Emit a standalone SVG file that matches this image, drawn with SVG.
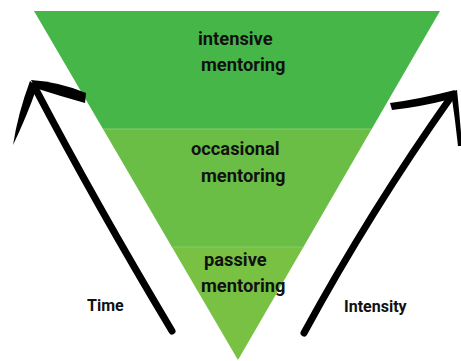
<svg xmlns="http://www.w3.org/2000/svg" width="461" height="361" viewBox="0 0 461 361">
<style>
.lbl{font-family:Roboto,"Open Sans","Liberation Sans",sans-serif;font-weight:700;fill:#111;}
.big{font-size:18.3px;}
.small{font-size:16px;}
.shaft{fill:none;stroke:#000;stroke-width:7;stroke-linecap:round;}
.ink{fill:#000;stroke:none;}
.sep{stroke:#86cc6a;stroke-width:1;}
</style>
<rect width="461" height="361" fill="#ffffff"/>
<g id="band-intensive">
<polygon points="34,11 440,11 371.7,129 103,129" fill="#47b649"/>
<text class="lbl big" x="198" y="45">intensive</text>
<text class="lbl big" x="201" y="71">mentoring</text>
</g>
<g id="band-occasional">
<polygon points="103,129 371.7,129 303.4,247 171.9,247" fill="#6abd45"/>
<text class="lbl big" x="191" y="155">occasional</text>
<text class="lbl big" x="201" y="182">mentoring</text>
</g>
<g id="band-passive">
<polygon points="171.9,247 303.4,247 238,360" fill="#78c143"/>
<text class="lbl big" x="204" y="266">passive</text>
<text class="lbl big" x="201" y="292">mentoring</text>
</g>
<g id="separators">
<line class="sep" x1="103" y1="129" x2="371.7" y2="129"/>
<line class="sep" x1="171.9" y1="247" x2="303.4" y2="247"/>
</g>
<g id="connectors">
<g id="arrow-time">
<path class="shaft" d="M172,331 Q96,204 34,86"/>
<path class="ink" d="M31,80 Q60,82 86,93 L85,103 Q60,96 35,88 Z"/>
<path class="ink" d="M30,81 L37,87 Q27,116 13,145 Q18,113 30,81 Z"/>
</g>
<g id="arrow-intensity">
<path class="shaft" d="M304,333 Q371,210 451,97"/>
<path class="ink" d="M455,90 Q420,99 390,103 L392,110 Q420,107 451,99 Z"/>
<path class="ink" d="M451,92 L457,90 Q460,118 462,146 L458,146 Q455,118 451,92 Z"/>
</g>
</g>
<g id="label-time">
<text class="lbl small" x="87" y="311">Time</text>
</g>
<g id="label-intensity">
<text class="lbl small" x="344" y="312">Intensity</text>
</g>
</svg>
